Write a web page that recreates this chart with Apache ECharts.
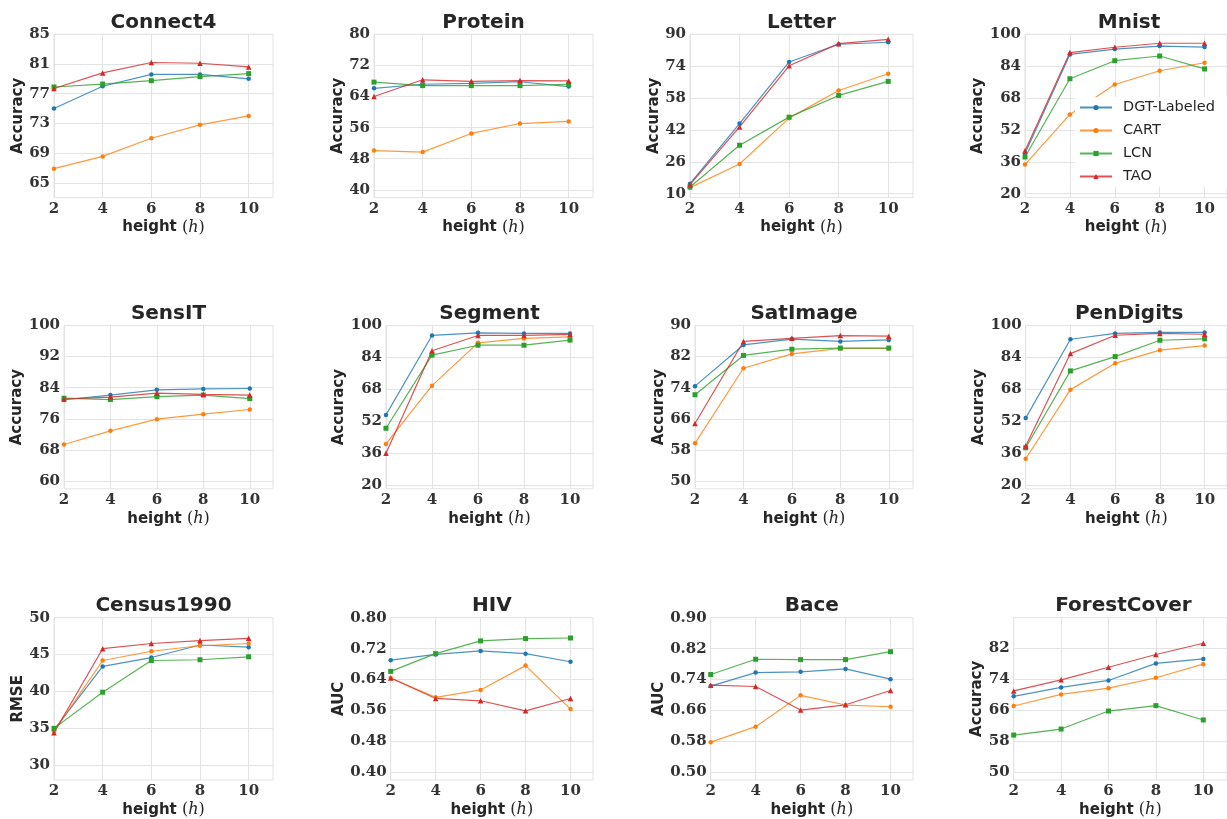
<!DOCTYPE html>
<html><head><meta charset="utf-8">
<script src="https://cdn.jsdelivr.net/npm/echarts@6/dist/echarts.min.js"></script>
<style>html,body{margin:0;padding:0;background:#fff}#c{width:1227px;height:819px}</style>
</head><body><div id="c"></div>
<script>
// ---------- data ----------
const heights = [2, 4, 6, 8, 10];
const methods = ['DGT-Labeled', 'CART', 'LCN', 'TAO'];

const connect4DGT  = [75.0, 78.0, 79.6, 79.6, 79.0];
const connect4CART = [66.9, 68.55, 71.0, 72.8, 74.0];
const connect4LCN  = [77.9, 78.3, 78.75, 79.3, 79.7];
const connect4TAO  = [77.7, 79.8, 81.2, 81.1, 80.6];
const connect4Ticks = [65, 69, 73, 77, 81, 85];

const proteinDGT  = [66.1, 67.15, 67.4, 67.8, 66.55];
const proteinCART = [50.1, 49.7, 54.5, 57.05, 57.6];
const proteinLCN  = [67.7, 66.8, 66.8, 66.8, 67.15];
const proteinTAO  = [64.0, 68.3, 67.9, 68.1, 68.0];
const proteinTicks = [40, 48, 56, 64, 72, 80];

const letterDGT  = [15.0, 45.2, 76.1, 85.0, 86.0];
const letterCART = [13.0, 24.9, 47.9, 61.8, 70.2];
const letterLCN  = [13.35, 34.3, 48.4, 59.3, 66.35];
const letterTAO  = [14.5, 43.5, 74.2, 85.3, 87.5];
const letterTicks = [10, 26, 42, 58, 74, 90];

const mnistDGT  = [40.1, 89.9, 92.6, 94.1, 93.6];
const mnistCART = [34.6, 59.75, 74.8, 81.7, 85.7];
const mnistLCN  = [38.4, 77.7, 86.75, 89.1, 82.6];
const mnistTAO  = [41.5, 90.8, 93.5, 95.5, 95.5];
const mnistTicks = [20, 36, 52, 68, 84, 100];

const sensitDGT  = [80.9, 82.1, 83.45, 83.7, 83.8];
const sensitCART = [69.4, 72.9, 75.9, 77.2, 78.4];
const sensitLCN  = [81.3, 80.95, 81.7, 82.1, 81.2];
const sensitTAO  = [81.1, 81.6, 82.6, 82.3, 82.1];
const sensitTicks = [60, 68, 76, 84, 92, 100];

const segmentDGT  = [55.1, 95.0, 96.3, 96.0, 96.0];
const segmentCART = [40.5, 69.8, 91.3, 93.5, 94.3];
const segmentLCN  = [48.4, 85.1, 90.1, 90.1, 92.65];
const segmentTAO  = [35.9, 87.3, 95.0, 95.0, 95.5];
const segmentTicks = [20, 36, 52, 68, 84, 100];

const satimageDGT  = [74.4, 85.0, 86.5, 85.9, 86.3];
const satimageCART = [59.7, 79.0, 82.7, 84.1, 84.1];
const satimageLCN  = [72.2, 82.3, 83.9, 84.2, 84.2];
const satimageTAO  = [64.8, 85.9, 86.7, 87.4, 87.25];
const satimageTicks = [50, 58, 66, 74, 82, 90];

const pendigitsDGT  = [53.5, 93.1, 96.0, 96.5, 96.5];
const pendigitsCART = [33.1, 67.8, 81.0, 87.6, 89.9];
const pendigitsLCN  = [38.6, 77.2, 84.4, 92.6, 93.3];
const pendigitsTAO  = [39.45, 85.9, 95.1, 96.0, 95.6];
const pendigitsTicks = [20, 36, 52, 68, 84, 100];

const censusDGT  = [34.8, 43.4, 44.6, 46.3, 46.0];
const censusCART = [34.6, 44.2, 45.45, 46.2, 46.5];
const censusLCN  = [35.0, 39.9, 44.2, 44.3, 44.7];
const censusTAO  = [34.4, 45.8, 46.5, 46.9, 47.2];
const censusTicks = [30, 35, 40, 45, 50];

const hivDGT  = [0.690, 0.705, 0.714, 0.707, 0.686];
const hivCART = [0.644, 0.594, 0.613, 0.676, 0.5635];
const hivLCN  = [0.661, 0.707, 0.740, 0.746, 0.7475];
const hivTAO  = [0.644, 0.591, 0.585, 0.559, 0.591];
const hivTicks = [0.40, 0.48, 0.56, 0.64, 0.72, 0.80];

const baceDGT  = [0.723, 0.758, 0.760, 0.7675, 0.741];
const baceCART = [0.578, 0.618, 0.699, 0.674, 0.6695];
const baceLCN  = [0.753, 0.7925, 0.7915, 0.7915, 0.812];
const baceTAO  = [0.7255, 0.722, 0.661, 0.6746, 0.7116];
const baceTicks = [0.50, 0.58, 0.66, 0.74, 0.82, 0.90];

const forestDGT  = [69.6, 71.9, 73.7, 78.1, 79.25];
const forestCART = [67.1, 70.1, 71.7, 74.4, 77.9];
const forestLCN  = [59.6, 61.15, 65.8, 67.2, 63.5];
const forestTAO  = [71.0, 73.85, 77.1, 80.4, 83.3];
const forestTicks = [50, 58, 66, 74, 82];

const panels = [
  {title: 'Connect4', yName: 'Accuracy', yMin: 63, yMax: 85, ticks: connect4Ticks, dec: 0, series: [connect4DGT, connect4CART, connect4LCN, connect4TAO]},
  {title: 'Protein', yName: 'Accuracy', yMin: 38, yMax: 80, ticks: proteinTicks, dec: 0, series: [proteinDGT, proteinCART, proteinLCN, proteinTAO]},
  {title: 'Letter', yName: 'Accuracy', yMin: 8, yMax: 90, ticks: letterTicks, dec: 0, series: [letterDGT, letterCART, letterLCN, letterTAO]},
  {title: 'Mnist', yName: 'Accuracy', yMin: 18, yMax: 100, ticks: mnistTicks, dec: 0, series: [mnistDGT, mnistCART, mnistLCN, mnistTAO]},
  {title: 'SensIT', yName: 'Accuracy', yMin: 58, yMax: 100, ticks: sensitTicks, dec: 0, series: [sensitDGT, sensitCART, sensitLCN, sensitTAO]},
  {title: 'Segment', yName: 'Accuracy', yMin: 18, yMax: 100, ticks: segmentTicks, dec: 0, series: [segmentDGT, segmentCART, segmentLCN, segmentTAO]},
  {title: 'SatImage', yName: 'Accuracy', yMin: 48, yMax: 90, ticks: satimageTicks, dec: 0, series: [satimageDGT, satimageCART, satimageLCN, satimageTAO]},
  {title: 'PenDigits', yName: 'Accuracy', yMin: 18, yMax: 100, ticks: pendigitsTicks, dec: 0, series: [pendigitsDGT, pendigitsCART, pendigitsLCN, pendigitsTAO]},
  {title: 'Census1990', yName: 'RMSE', yMin: 28, yMax: 50, ticks: censusTicks, dec: 0, series: [censusDGT, censusCART, censusLCN, censusTAO]},
  {title: 'HIV', yName: 'AUC', yMin: 0.38, yMax: 0.80, ticks: hivTicks, dec: 2, series: [hivDGT, hivCART, hivLCN, hivTAO]},
  {title: 'Bace', yName: 'AUC', yMin: 0.48, yMax: 0.90, ticks: baceTicks, dec: 2, series: [baceDGT, baceCART, baceLCN, baceTAO]},
  {title: 'ForestCover', yName: 'Accuracy', yMin: 48, yMax: 89.9, ticks: forestTicks, dec: 0, series: [forestDGT, forestCART, forestLCN, forestTAO]}
];

// ---------- layout / style ----------
const rowTop = [34.3, 325.5, 617.7];
const plotH = 163.3;
const layout = [
  {left: 54, width: 219, gap: 27}, {left: 374, width: 219, gap: 26}, {left: 690, width: 223, gap: 22}, {left: 1025, width: 208, gap: 37},
  {left: 64, width: 209, gap: 37}, {left: 386, width: 207, gap: 38}, {left: 695, width: 218, gap: 27}, {left: 1025.7, width: 207, gap: 38},
  {left: 54, width: 219, gap: 28}, {left: 390.7, width: 202.3, gap: 43}, {left: 710.7, width: 202.3, gap: 43}, {left: 1013.7, width: 219.5, gap: 26}
];
const colors = ['#1f77b4', '#ff7f0e', '#2ca02c', '#d62728'];
const symbols = ['circle', 'circle', 'rect', 'triangle'];
const symSizes = [4.5, 4.5, 5, 5.5];
const gridColor = '#e3e3e3';
const txt = '#262626';
const tickFont = {fontFamily: 'DejaVu Serif', fontWeight: 'bold', fontSize: 15, color: '#333333'};

const grids = [], xAxes = [], yAxes = [], titles = [], series = [];
panels.forEach((p, i) => {
  const L = layout[i];
  const top = rowTop[Math.floor(i / 4)];
  grids.push({left: L.left, top: top, width: L.width, height: plotH, show: true, borderColor: gridColor, borderWidth: 1, containLabel: false});
  titles.push({text: p.title, left: L.left + L.width / 2, top: top - 22, textAlign: 'center', padding: 0,
    textStyle: {fontFamily: 'DejaVu Sans', fontWeight: 'bold', fontSize: 20, color: txt}});
  xAxes.push({type: 'value', gridIndex: i, min: 2, max: 11,
    axisLine: {show: false}, axisTick: {show: false, customValues: heights},
    axisLabel: Object.assign({customValues: heights, margin: 4}, tickFont),
    splitLine: {show: true, lineStyle: {color: gridColor, width: 1}},
    name: '{a|height} {b|(}{c|h}{b|)}', nameLocation: 'middle', nameGap: 22,
    nameTextStyle: {fontFamily: 'DejaVu Sans', fontWeight: 'bold', fontSize: 15, color: txt,
      rich: {a: {fontFamily: 'DejaVu Sans', fontWeight: 'bold', fontSize: 15, color: txt},
             b: {fontFamily: 'DejaVu Serif', fontWeight: 'normal', fontSize: 16, color: txt},
             c: {fontFamily: 'DejaVu Serif', fontWeight: 'normal', fontStyle: 'italic', fontSize: 16, color: txt}}}
  });
  yAxes.push({type: 'value', gridIndex: i, min: p.yMin, max: p.yMax,
    axisLine: {show: false}, axisTick: {show: false, customValues: p.ticks},
    axisLabel: Object.assign({customValues: p.ticks, margin: 4,
      formatter: v => p.dec ? v.toFixed(p.dec) : String(Math.round(v))}, tickFont),
    splitLine: {show: true, lineStyle: {color: gridColor, width: 1}},
    name: p.yName, nameLocation: 'middle', nameRotate: 90, nameGap: L.gap,
    nameTextStyle: {fontFamily: 'DejaVu Sans', fontWeight: 'bold', fontSize: 15, color: txt}
  });
  p.series.forEach((vals, m) => {
    series.push({type: 'line', name: methods[m], xAxisIndex: i, yAxisIndex: i,
      data: heights.map((h, k) => [h, vals[k]]),
      symbol: symbols[m], symbolSize: symSizes[m], showAllSymbol: true,
      itemStyle: {color: colors[m]},
      lineStyle: {color: colors[m], width: 1.2, opacity: 0.8},
      emphasis: {disabled: true}, animation: false, silent: true});
  });
});

const chart = echarts.init(document.getElementById('c'), null, {renderer: 'canvas'});
chart.setOption({
  backgroundColor: '#ffffff',
  animation: false,
  title: titles,
  grid: grids,
  xAxis: xAxes,
  yAxis: yAxes,
  legend: {data: methods, orient: 'vertical', left: 1075, top: 97, itemWidth: 32, itemHeight: 6.5, itemGap: 8,
    backgroundColor: '#ffffff', padding: [3, 40, 3, 4], selectedMode: false,
    textStyle: {fontFamily: 'DejaVu Sans', fontSize: 14.5, color: txt, padding: [0, 0, 0, 6]}},
  series: series
});
</script></body></html>
